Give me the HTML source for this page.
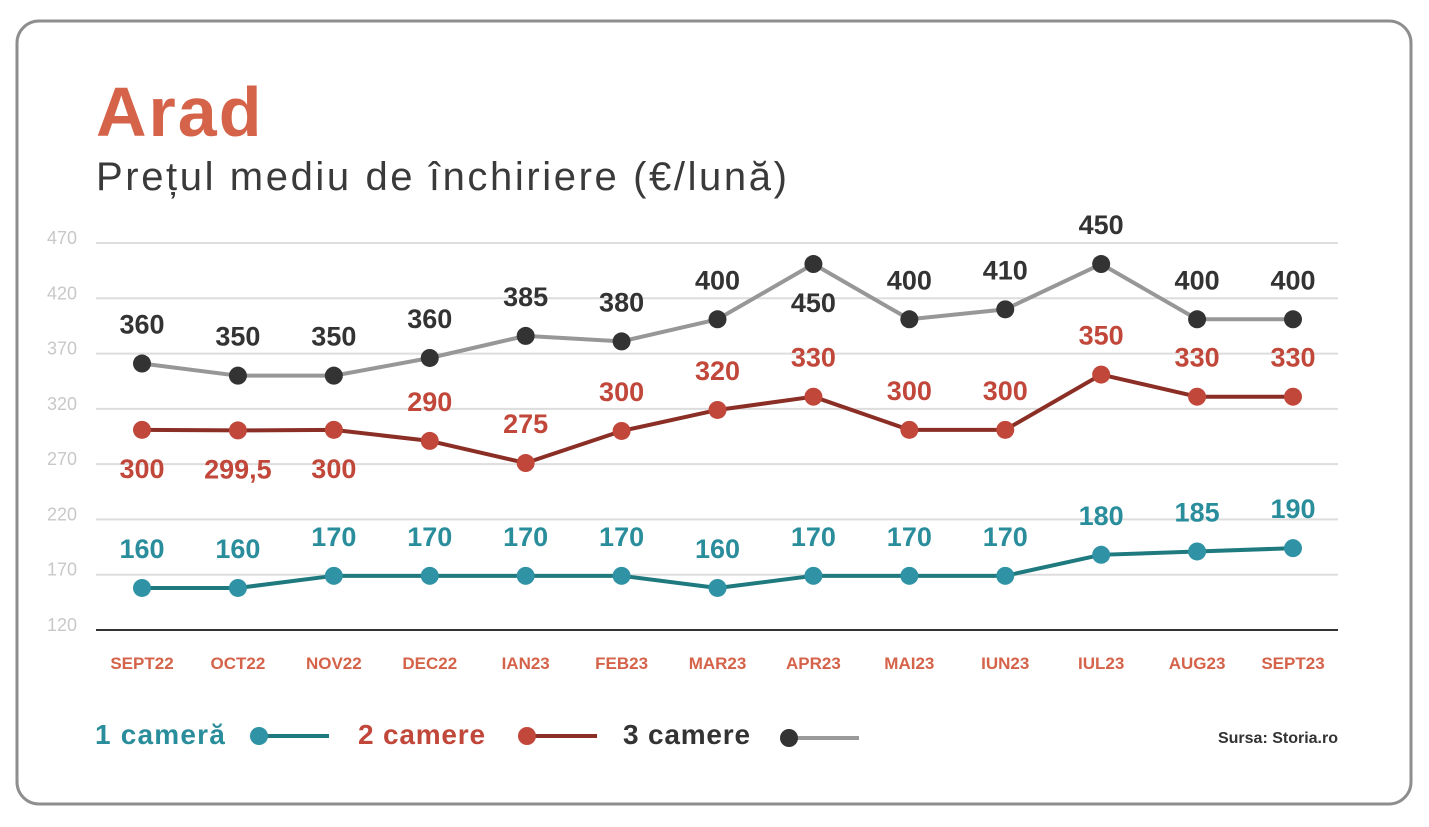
<!DOCTYPE html>
<html><head><meta charset="utf-8"><style>
html,body{margin:0;padding:0;background:#fff;width:1429px;height:827px;overflow:hidden;font-family:"Liberation Sans","DejaVu Sans",sans-serif}
</style></head><body>
<svg id="c" width="1429" height="827" xmlns="http://www.w3.org/2000/svg">
<rect x="17" y="21" width="1394" height="783" rx="22" fill="#fff" stroke="#8e8e8e" stroke-width="3"/>
<text x="96" y="136" font-size="70" font-weight="bold" fill="#d5634a" letter-spacing="2">Arad</text>
<text x="96" y="190" font-size="40" fill="#3a3a3a" letter-spacing="2.6">Prețul mediu de închiriere (€/lună)</text>
<g id="grid"></g><g id="lines"></g>
<g>
<text x="95" y="744" font-size="28" font-weight="bold" fill="#2a8d9b" letter-spacing="1.2">1 cameră</text>
<line x1="259" y1="736" x2="329" y2="736" stroke="#1f7a7f" stroke-width="4"/>
<circle cx="259" cy="736" r="9" fill="#2f93a5"/>
<text x="358" y="744" font-size="28" font-weight="bold" fill="#c0473a" letter-spacing="0.8">2 camere</text>
<line x1="527" y1="736" x2="597" y2="736" stroke="#8b2f26" stroke-width="4"/>
<circle cx="527" cy="736" r="9" fill="#c0473a"/>
<text x="623" y="744" font-size="28" font-weight="bold" fill="#333" letter-spacing="0.8">3 camere</text>
<line x1="789" y1="738" x2="859" y2="738" stroke="#9a9a9a" stroke-width="4"/>
<circle cx="789" cy="738" r="9" fill="#333"/>
</g>
<text x="1338" y="743" font-size="16" font-weight="bold" fill="#333" text-anchor="end">Sursa: Storia.ro</text>
</svg>
<script>
const categories=["SEPT22","OCT22","NOV22","DEC22","IAN23","FEB23","MAR23","APR23","MAI23","IUN23","IUL23","AUG23","SEPT23"];
const yTicks=[470,420,370,320,270,220,170,120];
const s1=[158,158,169,169,169,169,158,169,169,169,188,191,194];
const s1Labels=["160","160","170","170","170","170","160","170","170","170","180","185","190"];
const s2=[301,300.5,301,291,271,300,319,331,301,301,351,331,331];
const s2Labels=["300","299,5","300","290","275","300","320","330","300","300","350","330","330"];
const s2Below=[1,1,1,0,0,0,0,0,0,0,0,0,0];
const s3=[361,350,350,366,386,381,401,451,401,410,451,401,401];
const s3Labels=["360","350","350","360","385","380","400","450","400","410","450","400","400"];
const s3Below=[0,0,0,0,0,0,0,1,0,0,0,0,0];
const NS="http://www.w3.org/2000/svg";
const x=i=>142+i*(1293-142)/(categories.length-1);
const y=v=>630-(v-120)*(630-243)/(470-120);
function mk(t,a,p){const e=document.createElementNS(NS,t);for(const k in a)e.setAttribute(k,a[k]);p.appendChild(e);return e;}
const grid=document.getElementById('grid'),lines=document.getElementById('lines');
yTicks.forEach(v=>{
 const l=mk('line',{x1:96,x2:1338,y1:y(v),y2:y(v),stroke:v===120?'#333':'#ddd','stroke-width':2},grid);
 
 
 const t=mk('text',{x:47,y:y(v)+1,'font-size':18,fill:'#c8c8c8'},grid);t.textContent=v;
 
 
});
categories.forEach((c,i)=>{
 const t=mk('text',{x:x(i),y:669,'font-size':17,'font-weight':'bold',fill:'#d5634a','text-anchor':'middle'},grid);t.textContent=c;
 
 
});
function series(vals,labels,below,line,dot,lab,name){
 const p=mk('polyline',{points:vals.map((v,i)=>x(i)+','+y(v)).join(' '),fill:'none',stroke:line,'stroke-width':4,'stroke-linejoin':'round'},lines);
 
 
 vals.forEach((v,i)=>{
  const c=mk('circle',{cx:x(i),cy:y(v),r:9,fill:dot},lines);
  
  
  const b=below&&below[i];
  const t=mk('text',{x:x(i),y:b?y(v)+48:y(v)-30,'font-size':27,'font-weight':'bold',fill:lab,'text-anchor':'middle'},lines);
  t.textContent=labels[i];
  
  
 });
}
series(s3,s3Labels,s3Below,'#979797','#333','#333','3-camere');
series(s2,s2Labels,s2Below,'#8b2f26','#c0473a','#c0473a','2-camere');
series(s1,s1Labels,null,'#1f7a7f','#2f93a5','#2a8d9b','1-camera');
</script>
</body></html>
